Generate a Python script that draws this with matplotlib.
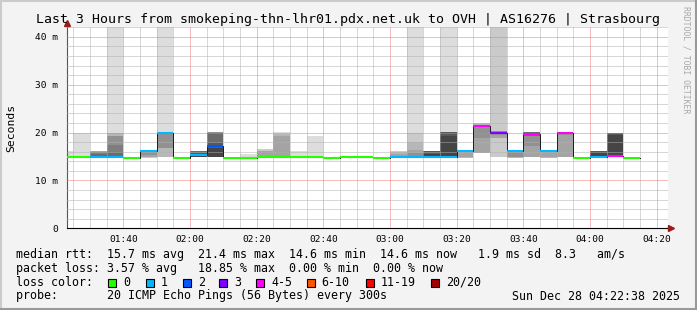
import matplotlib
matplotlib.use("Agg")
import matplotlib.pyplot as plt
from matplotlib.lines import Line2D
from matplotlib.patches import Rectangle

# 300 s bins, minutes after midnight; first bin ends 01:25, last ends 04:15
first_end = 85
step = 5

median_ms = [14.8, 14.8, 14.8, 14.8, 14.6, 16.2, 20.0, 14.6, 15.4, 17.1,
             14.6, 14.6, 14.8, 14.8, 14.8, 14.8, 14.6, 14.8, 14.8, 14.6,
             14.8, 14.8, 14.8, 15.0, 16.25, 21.4, 19.9, 16.25, 19.8, 16.25,
             20.0, 14.6, 14.8, 15.2, 14.6]
lost_pings = [0, 0, 1, 1, 0, 1, 1, 0, 1, 2,
              0, 0, 0, 0, 0, 0, 0, 0, 0, 0,
              1, 1, 1, 1, 1, 4, 3, 1, 4, 1,
              4, 0, 1, 4, 0]
# smoke per bin: (low ms, high ms, density level 1..10)
smoke = [
    [(14.8, 16.2, 1)],
    [(14.8, 20.0, 1)],
    [(14.7, 16.2, 4), (14.7, 15.9, 6), (14.7, 15.5, 7)],
    [(14.8, 45, 1), (14.8, 19.9, 3), (14.8, 19.3, 5), (14.8, 17.4, 6), (14.8, 16.0, 7)],
    [],
    [(14.6, 16.2, 2), (15.0, 16.2, 4), (15.3, 16.2, 5)],
    [(14.8, 45, 1), (14.8, 20.0, 3), (16.7, 20.0, 5)],
    [],
    [(14.9, 16.2, 7), (14.9, 15.8, 8), (14.9, 15.4, 9)],
    [(14.8, 20.1, 5), (14.8, 19.9, 7), (14.8, 18.0, 8), (14.8, 16.8, 9)],
    [(14.6, 14.9, 1)],
    [(14.6, 15.6, 1)],
    [(14.8, 16.5, 2), (14.8, 16.2, 4)],
    [(14.8, 20.1, 1), (14.8, 19.8, 3), (14.8, 19.3, 4)],
    [(14.8, 16.2, 1)],
    [(14.8, 19.3, 1)],
    [], [], [], [],
    [(14.8, 16.2, 2), (14.8, 15.9, 3), (14.8, 15.5, 4), (14.8, 15.1, 5)],
    [(14.8, 45, 1), (14.8, 20.0, 2), (14.8, 18.0, 3), (14.8, 16.4, 4), (14.8, 15.7, 5)],
    [(14.8, 16.2, 8), (14.8, 15.6, 9)],
    [(15.0, 45, 1), (15.0, 20.1, 8), (15.0, 19.3, 9)],
    [(14.6, 16.25, 3), (14.8, 16.25, 4)],
    [(15.7, 22.0, 3), (15.7, 21.4, 4), (18.8, 21.4, 5)],
    [(14.8, 45, 2), (18.8, 20.3, 4), (19.5, 20.3, 5)],
    [(14.6, 16.25, 3), (15.0, 16.25, 5)],
    [(14.8, 20.2, 4), (17.1, 20.2, 5), (19.3, 20.2, 7)],
    [(14.6, 16.25, 3), (14.8, 16.25, 4)],
    [(14.8, 20.0, 4), (19.6, 20.0, 5)],
    [],
    [(14.8, 16.2, 8), (14.8, 16.0, 9)],
    [(14.8, 20.0, 8), (14.8, 19.5, 9)],
    [],
]

loss_labels = ["0", "1", "2", "3", "4-5", "6-10", "11-19", "20/20"]
loss_colors = ["#26ff00", "#00b8ff", "#0059ff", "#7e00ff", "#ff00ff", "#ff5500", "#ff0000", "#a10000"]
xtick_pos = [100, 120, 140, 160, 180, 200, 220, 240, 260]
xtick_labels = ["01:40", "02:00", "02:20", "02:40", "03:00", "03:20", "03:40", "04:00", "04:20"]
ytick_pos = [0, 10, 20, 30, 40]
ytick_labels = ["0", "10 m", "20 m", "30 m", "40 m"]

title = "Last 3 Hours from smokeping-thn-lhr01.pdx.net.uk to OVH | AS16276 | Strasbourg"
rtt_line = "median rtt:  15.7 ms avg  21.4 ms max  14.6 ms min  14.6 ms now   1.9 ms sd  8.3   am/s"
loss_line = "packet loss: 3.57 % avg   18.85 % max  0.00 % min  0.00 % now"
probe_line = "probe:       20 ICMP Echo Pings (56 Bytes) every 300s"
date_text = "Sun Dec 28 04:22:38 2025"


def loss_index(n):
    if n <= 3:
        return n
    if n <= 5:
        return 4
    if n <= 10:
        return 5
    if n <= 19:
        return 6
    return 7


def smoke_gray(level):
    v = int(190 / 10 * (10 - level)) + 50
    return "#%02x%02x%02x" % (v, v, v)


W, H = 697, 310
mono = "DejaVu Sans Mono"
plt.rcParams["font.family"] = mono

fig = plt.figure(figsize=(W / 100, H / 100), dpi=100, facecolor="#f3f3f3")


def fx(x):
    return x / W


def fy(y):
    return 1 - y / H


ax = fig.add_axes([fx(66.5), fy(228.3), 601 / W, 201 / H])
ax.set_facecolor("white")
x0 = 82.9
ax.set_xlim(x0, x0 + 180.3)
ax.set_ylim(0, 42)

# smoke
for i, layers in enumerate(smoke):
    left = first_end - step + i * step
    for lo, hi, lev in layers:
        ax.bar(left, hi - lo, bottom=lo, width=step, align="edge",
               color=smoke_gray(lev), linewidth=0, zorder=2)

# grid (1 px on / 1 px off)
for m in range(85, 263, 5):
    major = m % 20 == 0
    ax.axvline(m, color="#f07878" if major else "#b0b0b0",
               lw=0.72, ls=(0, (1, 1)), zorder=3)
for v in range(2, 43, 2):
    major = v % 10 == 0
    ax.axhline(v, color="#f07878" if major else "#b0b0b0",
               lw=0.72, ls=(0, (1, 1)), zorder=3)

# median line
edges = [first_end - step + i * step for i in range(len(median_ms) + 1)]
ax.step(edges, median_ms + [median_ms[-1]], where="post", color="#202020", lw=0.72, zorder=4)
for i, m in enumerate(median_ms):
    left = edges[i]
    ax.hlines(m, left, left + step, colors=loss_colors[loss_index(lost_pings[i])],
              lw=1.5, zorder=5)

# axes
for s in ["top", "right"]:
    ax.spines[s].set_visible(False)
ax.spines["left"].set_color("#555555")
ax.spines["bottom"].set_color("#000000")
ax.spines["left"].set_linewidth(0.8)
ax.spines["bottom"].set_linewidth(0.8)
ax.set_xticks(xtick_pos)
ax.set_xticklabels(xtick_labels)
ax.set_yticks(ytick_pos)
ax.set_yticklabels(ytick_labels)
ax.tick_params(axis="both", length=0, labelsize=6.8, colors="#000000")
ax.tick_params(axis="x", pad=5)
ax.tick_params(axis="y", pad=6)
ax.plot([x0], [43.0], marker="^", ms=4, color="#9b1c1c", clip_on=False, zorder=6)
ax.plot([x0 + 181.2], [0], marker=">", ms=4, color="#9b1c1c", clip_on=False, zorder=6)
ax.plot([x0, x0], [42, 43], color="#555555", lw=0.8, clip_on=False)
ax.plot([x0 + 180.3, x0 + 181.2], [0, 0], color="#000000", lw=0.8, clip_on=False)

# texts
fig.text(0.5, fy(19), title, ha="center", va="center", fontsize=9.5, color="#000000")
fig.text(fx(11), fy(128), "Seconds", rotation=90, ha="center", va="center", fontsize=8.2)
fig.text(fx(686), fy(60), "RRDTOOL / TOBI OETIKER", rotation=270, ha="center", va="center",
         fontsize=5.9, color="#a8a8a8")

fs = 8.4
fig.text(fx(16), fy(254.3), rtt_line, ha="left", va="center", fontsize=fs)
fig.text(fx(16), fy(268.3), loss_line, ha="left", va="center", fontsize=fs)
fig.text(fx(16), fy(282.3), "loss color:", ha="left", va="center", fontsize=fs)
fig.text(fx(16), fy(296), probe_line, ha="left", va="center", fontsize=fs)
fig.text(fx(680), fy(296), date_text, ha="right", va="center", fontsize=fs)

box_x = [108, 145.7, 182.7, 219.3, 256, 306.7, 365.7, 430.7]
for bx, lab, col in zip(box_x, loss_labels, loss_colors):
    fig.patches.append(Rectangle((fx(bx), fy(286.5)), 8 / W, 8 / H, transform=fig.transFigure,
                                 facecolor=col, edgecolor="#000000", lw=0.8))
    fig.text(fx(bx + 15), fy(282.3), lab, ha="left", va="center", fontsize=fs)

# 3D border
fig.lines.append(Line2D([0, 1], [fy(0.5), fy(0.5)], transform=fig.transFigure, color="#cbcbcb", lw=1.5))
fig.lines.append(Line2D([fx(0.5), fx(0.5)], [0, 1], transform=fig.transFigure, color="#cbcbcb", lw=1.5))
fig.lines.append(Line2D([0, 1], [fy(309), fy(309)], transform=fig.transFigure, color="#999999", lw=1.5))
fig.lines.append(Line2D([fx(696), fx(696)], [0, 1], transform=fig.transFigure, color="#999999", lw=1.5))

fig.savefig("out.png", dpi=100, facecolor=fig.get_facecolor())
